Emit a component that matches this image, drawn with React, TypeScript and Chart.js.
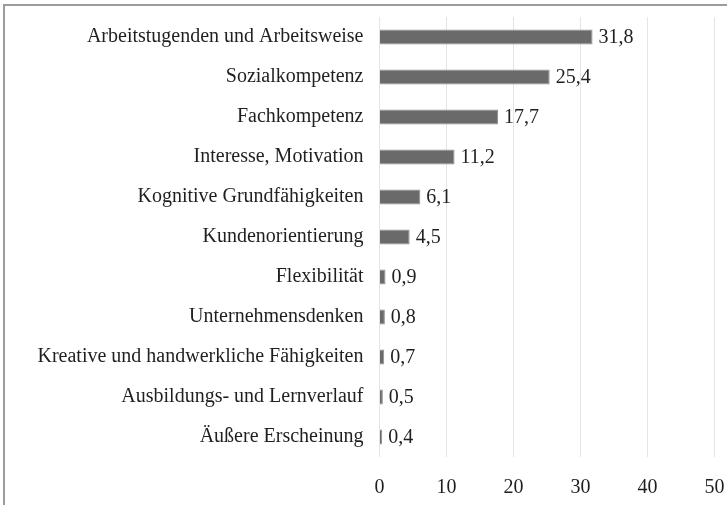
import React, { useEffect, useRef } from "react";
import { Chart, registerables } from "chart.js";

Chart.register(...registerables);

const categories = [
  "Arbeitstugenden und Arbeitsweise",
  "Sozialkompetenz",
  "Fachkompetenz",
  "Interesse, Motivation",
  "Kognitive Grundfähigkeiten",
  "Kundenorientierung",
  "Flexibilität",
  "Unternehmensdenken",
  "Kreative und handwerkliche Fähigkeiten",
  "Ausbildungs- und Lernverlauf",
  "Äußere Erscheinung",
];
const values = [31.8, 25.4, 17.7, 11.2, 6.1, 4.5, 0.9, 0.8, 0.7, 0.5, 0.4];
const xTicks = [0, 10, 20, 30, 40, 50];

const FONT = "'Liberation Serif', 'Times New Roman', serif";
const TEXT = "#1f1f1f";

const valueLabels = {
  id: "valueLabels",
  afterDatasetsDraw(chart: any) {
    const ctx = chart.ctx;
    const meta = chart.getDatasetMeta(0);
    ctx.save();
    ctx.font = `20px ${FONT}`;
    ctx.fillStyle = TEXT;
    ctx.textAlign = "left";
    ctx.textBaseline = "middle";
    meta.data.forEach((bar: any, i: number) => {
      const v = values[i];
      ctx.fillText(v.toFixed(1).replace(".", ","), bar.x + 6, bar.y + 1);
    });
    ctx.restore();
  },
};

export default function App() {
  const ref = useRef<HTMLCanvasElement | null>(null);
  useEffect(() => {
    document.body.style.margin = "0";
    const chart = new Chart(ref.current as HTMLCanvasElement, {
      type: "bar",
      data: {
        labels: categories,
        datasets: [
          {
            data: values,
            backgroundColor: "#6a6a6a",
            borderColor: "#8f8f8f",
            borderWidth: 1,
            barPercentage: 0.375,
            categoryPercentage: 1,
          },
        ],
      },
      options: {
        indexAxis: "y",
        animation: false,
        responsive: false,
        maintainAspectRatio: false,
        layout: { padding: { top: 17, bottom: 5, left: 0, right: 12.5 } },
        plugins: { legend: { display: false }, tooltip: { enabled: false } },
        scales: {
          x: {
            min: 0,
            max: 50,
            afterBuildTicks: (scale: any) => {
              scale.ticks = xTicks.map((v) => ({ value: v }));
            },
            afterFit: (scale: any) => {
              scale.height = 43;
              scale.paddingLeft = 0;
              scale.paddingRight = 0;
            },
            grid: { color: "#e4e4e4", lineWidth: 1, drawTicks: false },
            border: { display: false },
            ticks: {
              padding: 19,
              color: TEXT,
              font: { family: FONT, size: 20 },
            },
          },
          y: {
            grid: { display: false, drawTicks: false },
            border: { display: false },
            afterFit: (scale: any) => {
              scale.width = 379.5;
              scale.paddingTop = 0;
              scale.paddingBottom = 0;
            },
            ticks: {
              padding: 16,
              color: TEXT,
              font: { family: FONT, size: 20 },
            },
          },
        },
      },
      plugins: [valueLabels],
    });
    return () => chart.destroy();
  }, []);
  return (
    <div style={{ position: "relative", width: 727, height: 505, overflow: "hidden", background: "#fff" }}>
      <div
        style={{
          position: "absolute",
          left: 3,
          top: 4,
          width: 740,
          height: 520,
          border: "2px solid #9c9c9c",
          boxSizing: "border-box",
        }}
      />
      <canvas ref={ref} width={727} height={505} style={{ position: "absolute", left: 0, top: 0 }} />
    </div>
  );
}
